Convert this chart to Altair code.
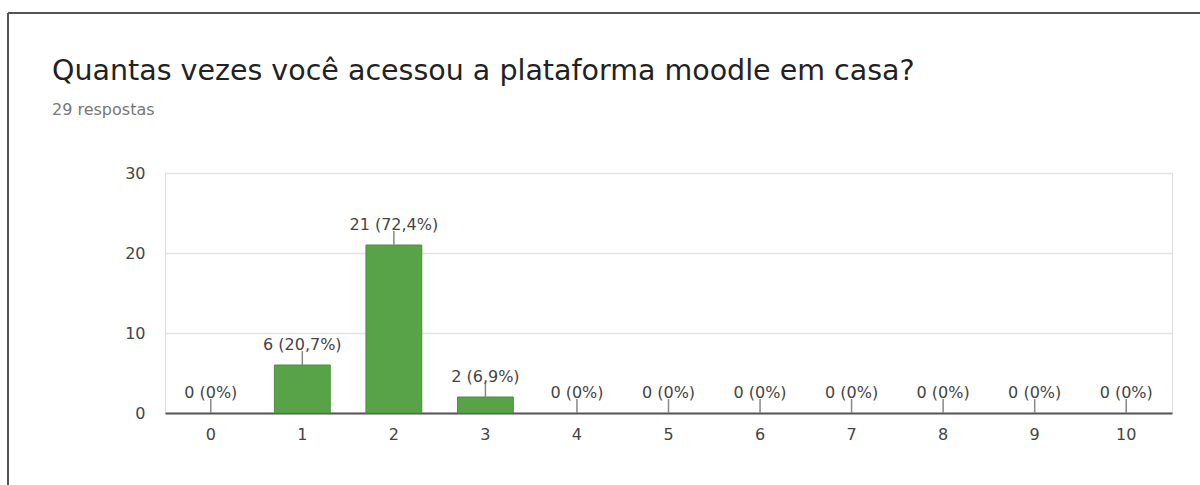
import altair as alt
import pandas as pd

# Survey answers: how many times the student opened Moodle at home
opcoes = [0, 1, 2, 3, 4, 5, 6, 7, 8, 9, 10]
respostas = [0, 6, 21, 2, 0, 0, 0, 0, 0, 0, 0]
total = 29
y_ticks = [0, 5, 10, 15, 20, 25, 30]

titulo = "Quantas vezes você acessou a plataforma moodle em casa?"
subtitulo = f"{total} respostas"


def rotulo(n):
    pct = round(100 * n / total, 1)
    txt = f"{pct:.1f}".rstrip("0").rstrip(".").replace(".", ",")
    return f"{n} ({txt}%)"


df = pd.DataFrame({
    "opcao": opcoes,
    "n": respostas,
    "rotulo": [rotulo(n) for n in respostas],
})

FONT = "DejaVu Sans"
GREEN = "#58a348"

x_enc = alt.X(
    "opcao:O",
    title=None,
    scale=alt.Scale(paddingInner=0.39, paddingOuter=0.195),
    axis=alt.Axis(
        labelAngle=0, ticks=False, labelPadding=13, labelFontSize=16,
        labelColor="#444", labelFont=FONT, domainColor="#555",
        domainWidth=2, grid=False,
    ),
)
y_enc = alt.Y(
    "n:Q",
    title=None,
    scale=alt.Scale(domain=[0, 30], nice=False),
    axis=alt.Axis(
        values=y_ticks,
        labelExpr="datum.value % 10 === 0 ? datum.label : ''",
        ticks=False, domain=False, labelPadding=20, labelFontSize=16,
        labelColor="#444", labelFont=FONT,
        gridColor={"condition": {"test": "datum.value % 10 === 0", "value": "#e2e2e2"},
                   "value": "#f0f0f0"},
        gridWidth=1.5,
    ),
)

base = alt.Chart(df)

# zero counts draw no bar, only the leader and label
bars = base.transform_filter("datum.n > 0").mark_bar(
    color=GREEN, stroke="#4b8f3d", strokeWidth=1
).encode(x=x_enc, y=y_enc)

leaders = base.mark_rule(color="#888", strokeWidth=1.5, y2Offset=-14).encode(
    x=alt.X("opcao:O"), y=alt.Y("n:Q"), y2=alt.Y2("n")
)

labels = base.mark_text(
    baseline="alphabetic", dy=-15, fontSize=16, font=FONT, color="#444"
).encode(x=alt.X("opcao:O"), y=alt.Y("n:Q"), text="rotulo:N")

# Card header and frame, placed in pixels relative to the plot area
single = alt.Chart(alt.Data(values=[{"k": 0}]))
title_mark = single.mark_text(
    align="left", baseline="alphabetic", fontSize=28.5, font=FONT, color="#222"
).encode(x=alt.value(-113), y=alt.value(-93), text=alt.value(titulo))
subtitle_mark = single.mark_text(
    align="left", baseline="alphabetic", fontSize=16, font=FONT, color="#777"
).encode(x=alt.value(-113), y=alt.value(-58), text=alt.value(subtitulo))

frame_top = single.mark_rule(color="#555", strokeWidth=2).encode(
    x=alt.value(-157), x2=alt.value(1040), y=alt.value(-160)
)
frame_left = single.mark_rule(color="#555", strokeWidth=2).encode(
    x=alt.value(-157), y=alt.value(-160), y2=alt.value(320)
)

chart = (
    alt.layer(bars, leaders, labels, title_mark, subtitle_mark, frame_top, frame_left)
    .properties(
        width=1007,
        height=240,
        padding={"left": 165, "top": 173, "right": 28, "bottom": 72},
        autosize=alt.AutoSizeParams(type="none"),
    )
    .configure_view(stroke="#e6e6e6", strokeWidth=1.5)
    .configure(background="white")
)

chart.save("out.html", embed_options={"renderer": "svg", "actions": False})
